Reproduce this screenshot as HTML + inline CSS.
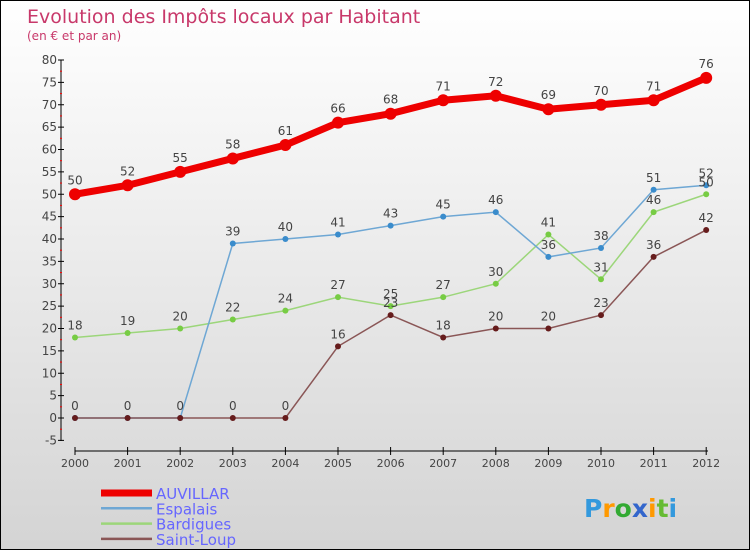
<!DOCTYPE html>
<html><head><meta charset="utf-8"><style>
body{margin:0}
#c{width:748px;height:548px;border:1px solid #000;background:linear-gradient(#fff,#d4d4d4);position:relative;font-family:"DejaVu Sans","Liberation Sans",sans-serif}
</style></head><body>
<div id="c">
<svg id="s" width="748" height="548" xmlns="http://www.w3.org/2000/svg"></svg>
</div>
<script>
const years=[2000,2001,2002,2003,2004,2005,2006,2007,2008,2009,2010,2011,2012];
const auvillar=[50,52,55,58,61,66,68,71,72,69,70,71,76];
const espalais=[0,0,0,39,40,41,43,45,46,36,38,51,52];
const bardigues=[18,19,20,22,24,27,25,27,30,41,31,46,50];
const saintLoup=[0,0,0,0,0,16,23,18,20,20,23,36,42];
const yTicks=[-5,0,5,10,15,20,25,30,35,40,45,50,55,60,65,70,75,80];
const seriesNames=["AUVILLAR","Espalais","Bardigues","Saint-Loup"];
const NS="http://www.w3.org/2000/svg";
const s=document.getElementById('s');
const X=i=>74+i*52.6;
const Y=v=>417-v*4.475;
function el(t,a,txt){const e=document.createElementNS(NS,t);for(const k in a)e.setAttribute(k,a[k]);if(txt!==undefined)e.textContent=txt;s.appendChild(e);return e;}
let e;
e=el('text',{x:26,y:22,'font-size':19,fill:'#c8386a'},'Evolution des Impôts locaux par Habitant');

e=el('text',{x:26,y:39,'font-size':12,fill:'#c8386a'},'(en € et par an)');

e=el('line',{x1:60,y1:59,x2:60,y2:440,stroke:'#000'});

yTicks.forEach(v=>{const y=Y(v);
 e=el('line',{x1:57,y1:y,x2:63,y2:y,stroke:'#000'});
 if(v<80){e=el('line',{x1:59,y1:Y(v+2.5),x2:61,y2:Y(v+2.5),stroke:'#f00'});}
 e=el('text',{x:56,y:y+4,'font-size':12,fill:'#444','text-anchor':'end'},String(v));
});
e=el('line',{x1:74,y1:450,x2:707,y2:450,stroke:'#000'});

years.forEach((yr,i)=>{
 e=el('line',{x1:X(i),y1:446,x2:X(i),y2:454,stroke:'#000'});
 e=el('text',{x:X(i),y:466,'font-size':11,fill:'#444','text-anchor':'middle'},String(yr));
});
const series=[[auvillar,'#ee0000',7,6,'#ee0000'],[espalais,'#6ea7d4',1.5,3,'#3a8ccc'],[bardigues,'#9cd67a',1.5,3,'#77cc44'],[saintLoup,'#8a5656',1.5,3,'#661c1c']];
const order=[2,1,3,0];
order.forEach(k=>{const [d,c,w,r,dc]=series[k];
 e=el('polyline',{points:d.map((v,i)=>X(i)+','+Y(v)).join(' '),fill:'none',stroke:c,'stroke-width':w});
 
 d.forEach((v,i)=>{e=el('circle',{cx:X(i),cy:Y(v),r:r,fill:dc});});
});
series.forEach(([d],k)=>{
 d.forEach((v,i)=>{
  if(k===1&&i<3)return;
  e=el('text',{x:X(i),y:Y(v)-(k===0?10:8),'font-size':12,fill:'#444','text-anchor':'middle'},String(v));
  
 });
});
series.forEach(([d,c,w],k)=>{const y=492+k*15.3;
 e=el('line',{x1:100,y1:y,x2:151,y2:y,stroke:c,'stroke-width':k===0?7:2.5});
 e=el('text',{x:155,y:y+6,'font-size':15,fill:'#6666ff'},seriesNames[k]);
});
const logo=[['P','#3399dd'],['r','#ff9900'],['o','#33aa33'],['x','#3366cc'],['i','#ff9900'],['t','#66bb33'],['i','#3399dd']];
e=el('text',{x:583,y:516,'font-size':25,'font-weight':'bold'});

logo.forEach(([ch,c])=>{const t=document.createElementNS(NS,'tspan');t.setAttribute('fill',c);t.textContent=ch;e.appendChild(t);});
</script>
</body></html>
